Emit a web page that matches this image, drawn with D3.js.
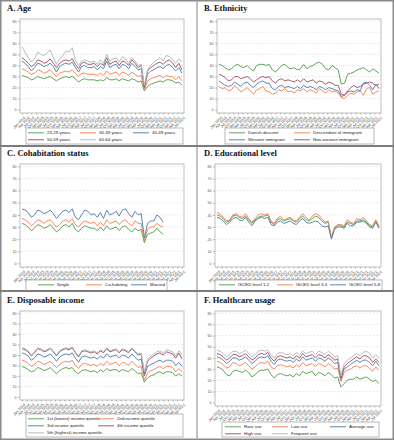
<!DOCTYPE html>
<html>
<head>
<meta charset="utf-8">
<script src="https://cdn.jsdelivr.net/npm/d3@7"></script>
<style>
  body { margin: 0; background: #fff; }
  svg { display: block; }
</style>
</head>
<body>
<div id="chart"></div>
<script>
// survey rounds, every second month from Jan 2014
const rounds = d3.timeMonth.range(new Date(2014, 0, 1), new Date(2022, 7, 15), 2);
const quarterTicks = d3.timeMonth.range(new Date(2014, 0, 1), new Date(2022, 7, 15), 3);
const yTicks = [0, 10, 20, 30, 40, 50, 60, 70, 80];

// A. Age
const ageNames = ['23-29 years', '30-39 years', '40-49 years', '50-59 years', '60-64 years'];
const age2329 = [31,30,29,27,28,30,29,28,29,30, 28,26,28,29,30,29,30,28,25,27, 28,27,27,27,26,27,26,29,27,27, 28,26,28,27,26,28,27,25,26,17, 21,23,24,25,26,25,27,27,26,24, 25,22];
const age3039 = [37,36,34,32,33,36,35,33,34,36, 33,30,33,34,35,34,36,33,30,33, 33,32,32,32,31,33,31,35,32,33, 34,31,34,33,31,34,32,30,31,18, 26,28,29,30,31,29,31,30,30,27, 30,26];
const age4049 = [44,42,39,35,38,42,41,39,40,42, 39,34,39,41,42,41,43,38,34,39, 40,38,38,39,36,39,37,44,38,40, 41,37,41,40,37,42,39,36,37,20, 32,35,36,38,39,37,40,41,38,35, 38,33];
const age5059 = [47,45,42,39,41,45,44,42,43,46, 42,38,42,44,45,44,46,41,37,42, 43,41,41,42,39,42,40,47,41,43, 44,40,44,43,40,45,42,38,40,20, 35,38,40,42,43,41,44,45,42,38, 42,36];
const age6064 = [57,52,47,43,46,52,50,49,51,54, 47,41,46,49,53,52,56,45,40,44, 45,44,43,44,41,45,42,50,44,46, 47,43,48,46,42,47,44,40,41,22, 36,40,43,45,47,44,49,48,45,42, 46,43];

// B. Ethnicity
const ethNames = ['Danish descent', 'Descendant of immigrant', 'Western immigrant', 'Non-western immigrant'];
const ethDanish = [41,40,38,36,37,40,41,39,38,40, 37,35,40,41,41,40,41,36,34,37, 40,41,38,37,38,36,37,41,37,39, 40,42,43,41,37,36,40,38,36,23, 24,32,33,34,36,37,38,36,34,37, 35,33];
const ethDescendant = [21,19,20,17,18,22,19,16,18,20, 17,14,18,19,21,17,16,14,15,18, 17,19,16,17,15,18,17,19,16,18, 17,15,19,17,15,18,16,17,15,11, 10,13,15,14,16,17,13,19,20,14, 16,17];
const ethWestern = [26,24,22,21,22,25,23,21,24,25, 22,20,23,25,26,24,24,19,18,21, 22,20,21,20,19,21,19,22,20,21, 20,18,21,20,18,20,19,18,17,12, 13,16,17,16,18,17,24,25,22,18, 23,19];
const ethNonWestern = [32,31,29,26,27,30,30,28,29,30, 28,25,27,29,30,29,30,26,24,27, 28,26,27,26,25,27,25,28,25,26, 27,24,26,25,23,25,24,22,22,14, 13,17,20,22,20,21,23,24,25,24, 22,23];

// C. Cohabitation status
const cohabNames = ['Single', 'Co-habiting', 'Married'];
const cohabSingle = [33,32,30,27,29,32,31,29,30,32, 29,26,28,31,32,30,33,28,26,29, 31,30,29,29,27,30,27,31,28,29, 30,27,30,31,28,26,29,27,28,17, 24,25,26,29,26,24];
const cohabCohabiting = [37,36,34,31,33,36,35,33,35,36, 33,30,32,35,36,34,37,32,30,33, 35,34,33,34,31,34,31,36,33,34, 35,32,35,36,33,31,35,33,33,19, 28,30,30,33,31,30];
const cohabMarried = [45,44,42,38,40,44,43,41,42,44, 41,37,40,43,44,42,45,38,36,40, 44,43,40,41,38,42,37,44,40,41, 43,39,44,45,41,38,43,40,41,21, 33,35,35,40,38,34];

// D. Educational level
const eduNames = ['ISCED level 1-2', 'ISCED level 3-4', 'ISCED level 5-8'];
const edu12 = [40,39,37,34,35,39,40,38,37,39, 36,33,36,38,39,39,40,34,32,36, 37,35,36,37,35,34,37,39,36,35, 37,39,38,35,33,34,21,29,31,31, 30,34,33,32,35,35,36,34,31,30, 35,30];
const edu34 = [42,41,38,35,36,40,41,39,38,41, 37,34,37,40,41,40,41,35,33,37, 39,36,37,38,36,35,38,41,38,36, 39,41,40,37,34,35,22,30,32,32, 31,36,34,33,37,36,38,35,32,31, 36,31];
const edu58 = [38,37,35,32,34,37,38,36,35,38, 34,31,35,37,38,37,38,32,31,34, 35,33,34,35,33,32,35,37,34,33, 34,35,34,31,30,31,20,28,30,30, 29,33,31,31,34,34,35,33,30,29, 34,29];

// E. Disposable income
const incNames = ['1st (lowest) income quintile', '2nd income quintile', '3rd income quintile', '4th income quintile', '5th (highest) income quintile'];
const inc1 = [29,28,26,24,25,28,27,25,26,28, 25,22,25,27,28,27,28,24,22,25, 26,25,24,25,23,26,24,27,25,26, 26,24,26,25,24,27,25,22,23,14, 18,20,21,23,24,22,24,24,23,20, 22,20];
const inc2 = [35,34,32,29,31,34,33,31,32,34, 31,28,31,33,34,33,35,30,27,31, 32,31,30,31,29,32,30,34,31,32, 33,30,33,32,30,34,31,28,29,16, 23,25,26,28,29,27,29,29,28,24, 27,24];
const inc3 = [42,41,39,35,37,41,40,38,39,41, 38,34,38,40,41,40,42,37,33,38, 39,38,37,38,36,39,37,41,38,39, 40,37,40,39,37,41,38,35,36,20, 29,31,32,34,35,33,35,35,34,30, 33,29];
const inc4 = [46,45,43,39,42,46,45,43,44,46, 43,39,43,45,46,45,47,42,38,43, 44,43,42,43,41,44,42,46,43,44, 45,42,45,44,42,46,43,40,41,22, 34,37,39,41,42,40,43,42,41,37, 42,36];
const inc5 = [47,46,44,40,43,47,46,44,45,47, 44,40,44,46,47,46,48,43,39,44, 45,44,43,44,42,45,43,47,44,45, 46,43,46,45,43,47,44,41,42,24, 36,39,41,43,44,42,45,44,43,39, 44,41];

// F. Healthcare usage
const careNames = ['Rare use', 'Low use', 'Average use', 'High use', 'Frequent use'];
const careRare = [32,31,29,25,24,28,29,28,27,29, 27,23,25,28,29,29,30,25,22,25, 26,25,24,25,23,26,24,28,26,27, 28,24,27,26,24,27,25,22,23,14, 17,20,21,21,23,21,22,23,21,19, 20,17];
const careLow = [37,36,34,31,32,36,35,33,34,36, 33,30,32,35,36,35,37,32,30,33, 34,33,32,33,31,34,32,36,33,34, 35,32,35,34,32,35,33,30,31,19, 27,29,30,32,33,31,33,33,31,28, 32,29];
const careAverage = [41,40,38,35,37,40,40,38,39,41, 38,35,37,40,41,40,42,37,34,38, 39,38,37,38,36,39,37,41,38,39, 40,37,40,39,37,40,38,35,36,21, 30,32,34,36,38,36,38,38,36,33, 37,33];
const careHigh = [44,43,41,38,40,43,43,41,42,44, 41,38,40,43,44,43,45,40,37,41, 42,41,40,41,39,42,40,44,41,42, 43,40,43,42,40,43,41,38,39,22, 32,35,37,39,41,39,42,42,40,36, 39,36];
const careFrequent = [47,46,44,41,43,46,46,44,45,47, 44,41,43,46,47,46,47,43,40,44, 45,44,43,44,42,45,43,46,44,45, 46,43,46,45,43,46,44,41,42,24, 35,38,40,42,44,42,45,46,44,40, 43,40];

const palette = ['#5fa55a', '#f68b5f', '#5d87ad', '#a65b74', '#b4bebe'];

const W = 394, H = 440;

const panels = [
  { title: 'A. Age', x0: 0, y0: 0, titleY: 11,
    frame: { l: 20, r: 184, t: 19, b: 113 },
    legend: { x: 26, y: 128, w: 157, h: 16, cols: [28, 80, 133] },
    names: ageNames, values: [age2329, age3039, age4049, age5059, age6064] },
  { title: 'B. Ethnicity', x0: 197, y0: 0, titleY: 11,
    frame: { l: 217, r: 381, t: 19, b: 113 },
    legend: { x: 225, y: 128, w: 149, h: 16, cols: [229, 294] },
    names: ethNames, values: [ethDanish, ethDescendant, ethWestern, ethNonWestern] },
  { title: 'C. Cohabitation status', x0: 0, y0: 145, titleY: 156,
    frame: { l: 20, r: 184, t: 164, b: 267 },
    legend: { x: 26, y: 280, w: 141, h: 11, cols: [38, 86, 131] },
    names: cohabNames, values: [cohabSingle, cohabCohabiting, cohabMarried] },
  { title: 'D. Educational level', x0: 197, y0: 145, titleY: 156,
    frame: { l: 215, r: 381, t: 164, b: 267 },
    legend: { x: 215, y: 280, w: 167, h: 11, cols: [219, 277, 330] },
    names: eduNames, values: [edu12, edu34, edu58] },
  { title: 'E. Disposable income', x0: 0, y0: 290, titleY: 303,
    frame: { l: 20, r: 184, t: 311, b: 400 },
    legend: { x: 26, y: 414, w: 157, h: 23, cols: [28, 98] },
    names: incNames, values: [inc1, inc2, inc3, inc4, inc5] },
  { title: 'F. Healthcare usage', x0: 197, y0: 290, titleY: 303,
    frame: { l: 215, r: 381, t: 311, b: 406 },
    legend: { x: 222, y: 422, w: 157, h: 15, cols: [225, 272, 330] },
    names: careNames, values: [careRare, careLow, careAverage, careHigh, careFrequent] }
];

const svg = d3.select('#chart').append('svg')
  .attr('width', W)
  .attr('height', H)
  .attr('viewBox', `0 0 ${W} ${H}`);

svg.append('rect').attr('width', W).attr('height', H).attr('fill', '#fff');

const fmt = d3.timeFormat('%b %Y');

panels.forEach(p => {
  const f = p.frame;
  const g = svg.append('g');

  // title
  g.append('text')
    .attr('x', p.x0 + 7)
    .attr('y', p.titleY)
    .attr('font-family', '"Liberation Serif", "Times New Roman", serif')
    .attr('font-weight', 'bold')
    .attr('font-size', '8.5px')
    .attr('fill', '#111')
    .text(p.title);

  const x = d3.scaleTime()
    .domain([rounds[0], rounds[rounds.length - 1]])
    .range([f.l + 2, f.r - 2]);

  const y = d3.scaleLinear()
    .domain([-3, 82])
    .range([f.b, f.t]);

  // plot frame
  g.append('rect')
    .attr('x', f.l).attr('y', f.t)
    .attr('width', f.r - f.l).attr('height', f.b - f.t)
    .attr('fill', '#fff')
    .attr('stroke', '#b0b0b0')
    .attr('stroke-width', 0.8);

  // gridlines
  g.append('g')
    .selectAll('line')
    .data(yTicks.filter(t => t > 0))
    .join('line')
    .attr('x1', f.l).attr('x2', f.r)
    .attr('y1', d => y(d)).attr('y2', d => y(d))
    .attr('stroke', '#e3d9d9')
    .attr('stroke-width', 0.6)
    .attr('stroke-dasharray', '2,1.5');

  // y axis
  const yAxis = g.append('g')
    .attr('transform', `translate(${f.l},0)`)
    .call(d3.axisLeft(y).tickValues(yTicks).tickSize(2).tickPadding(1.5));
  yAxis.select('.domain').remove();
  yAxis.selectAll('line').attr('stroke', '#777').attr('stroke-width', 0.5);
  yAxis.selectAll('text')
    .attr('font-family', 'Arial, "Liberation Sans", sans-serif')
    .attr('font-size', '3.6px')
    .attr('fill', '#555');

  // x axis
  const xAxis = g.append('g')
    .attr('transform', `translate(0,${f.b})`)
    .call(d3.axisBottom(x).tickValues(quarterTicks).tickSize(1.5).tickFormat(fmt));
  xAxis.select('.domain').remove();
  xAxis.selectAll('line').attr('stroke', '#777').attr('stroke-width', 0.5);
  xAxis.selectAll('text')
    .attr('font-family', 'Arial, "Liberation Sans", sans-serif')
    .attr('font-size', '3.7px')
    .attr('fill', '#444')
    .attr('text-anchor', 'end')
    .attr('transform', 'rotate(-45)')
    .attr('dx', '-0.4em')
    .attr('dy', '0.3em');

  // series
  const line = d3.line()
    .x((d, i) => x(rounds[i]))
    .y(d => y(d));

  p.values.forEach((vals, k) => {
    g.append('path')
      .datum(vals)
      .attr('fill', 'none')
      .attr('stroke', palette[k])
      .attr('stroke-width', 1)
      .attr('stroke-linejoin', 'round')
      .attr('d', line);
  });

  // legend
  const L = p.legend;
  g.append('rect')
    .attr('x', L.x).attr('y', L.y)
    .attr('width', L.w).attr('height', L.h)
    .attr('fill', '#fff')
    .attr('stroke', '#9a9a9a')
    .attr('stroke-width', 0.7);

  const nCols = L.cols.length;
  p.names.forEach((name, k) => {
    const col = k % nCols;
    const row = Math.floor(k / nCols);
    const lx = L.cols[col];
    const ly = L.y + 4.8 + row * 7;
    g.append('line')
      .attr('x1', lx).attr('x2', lx + 16)
      .attr('y1', ly).attr('y2', ly)
      .attr('stroke', palette[k])
      .attr('stroke-width', 1);
    g.append('text')
      .attr('x', lx + 19)
      .attr('y', ly)
      .attr('dy', '0.35em')
      .attr('font-family', 'Arial, "Liberation Sans", sans-serif')
      .attr('font-size', '4.4px')
      .attr('fill', '#222')
      .text(name);
  });
});

// panel borders
svg.append('rect')
  .attr('x', 0.75).attr('y', 0.75)
  .attr('width', W - 1.5).attr('height', H - 1.5)
  .attr('fill', 'none')
  .attr('stroke', '#8a8a8a')
  .attr('stroke-width', 1.5);

svg.append('line')
  .attr('x1', 197).attr('x2', 197)
  .attr('y1', 0).attr('y2', H)
  .attr('stroke', '#9a9a9a')
  .attr('stroke-width', 1.2);

[146, 291].forEach(yy => {
  svg.append('line')
    .attr('x1', 0).attr('x2', W)
    .attr('y1', yy).attr('y2', yy)
    .attr('stroke', '#7d7d7d')
    .attr('stroke-width', 2);
});
</script>
</body>
</html>
